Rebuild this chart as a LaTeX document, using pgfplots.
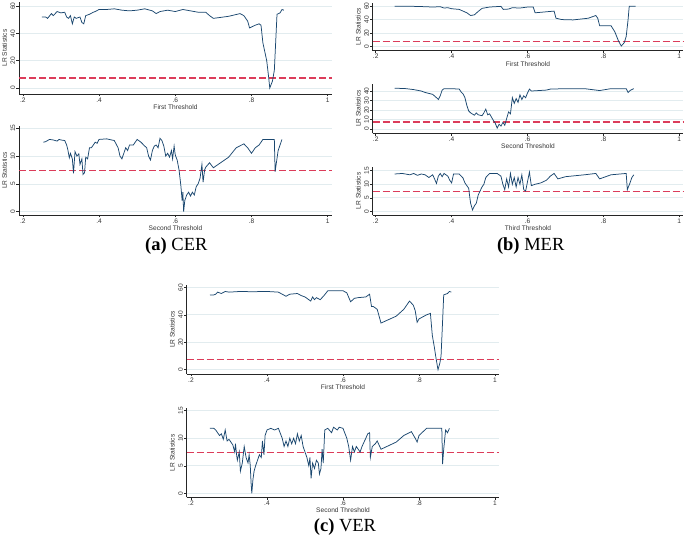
\documentclass[border=0pt]{standalone}
\usepackage{pgfplots}
\pgfplotsset{compat=1.18}
\usepackage{fontspec}
\setmainfont{Liberation Sans}
\newfontfamily\capfont{Liberation Serif}
\definecolor{navy}{HTML}{1A476F}
\definecolor{cvred}{HTML}{DC3C5A}
\definecolor{gridc}{RGB}{226,236,239}
\pgfplotsset{
  stata/.style={
    scale only axis,
    axis x line*=bottom, axis y line*=left,
    axis line style={black!85, line width=0.5pt},
    xtick={0.2,0.4,0.6,0.8,1}, xticklabels={.2,.4,.6,.8,1},
    tick align=outside, major tick length=2.5pt,
    tick style={black!85, line width=0.5pt},
    every tick label/.append style={font=\fontsize{6.6}{7}\selectfont, text=black!80},
    /pgf/number format/assume math mode=true,
    yticklabel style={rotate=90, anchor=south, inner sep=1pt},
    xticklabel style={inner sep=1pt},
    ymajorgrids, grid style={gridc, line width=0.6pt},
    ylabel={LR Statistics},
    xlabel style={inner sep=1pt, yshift=0pt, font=\fontsize{6.6}{7}\selectfont, text=black!80},
    every axis y label/.style={at={(axis description cs:0,0.5)}, xshift=-14.5pt, rotate=90, anchor=center, inner sep=0pt, font=\fontsize{6.6}{7}\selectfont, text=black!80},
    clip=false,
  },
  ser/.style={draw=navy, line width=0.75pt, mark=none},
  critline/.style={draw=cvred, color=cvred, line width=1.35pt, dash pattern=on 7pt off 3pt, mark=none},
}
\begin{document}
\begin{tikzpicture}
\path[use as bounding box] (0,0) rectangle (685pt,540pt);
% ---------- (a) top
\begin{axis}[stata, at={(19pt,446pt)}, anchor=south west, width=313pt, height=92pt,
  xmin=0.19, xmax=1.0113, ymin=-4.4, ymax=63, ytick={0,20,40,60}, xlabel={First Threshold}]
\addplot[critline] coordinates {(0.19,7.35) (1.0113,7.35)};
\addplot[ser] coordinates {
(0.25,52)(0.26,52)(0.265,51)(0.275,54.5)(0.28,53)(0.29,56)(0.30,55)(0.31,55.5)(0.315,52)(0.32,51)
(0.325,53)(0.33,47)(0.335,52)(0.34,51)(0.35,52)(0.355,48)(0.36,47)(0.365,53)(0.375,54)(0.385,55.5)
(0.39,56)(0.40,57.5)(0.42,57.5)(0.44,58)(0.46,57)(0.48,56.5)(0.50,57)(0.52,58)(0.54,56.5)(0.55,54.5)
(0.56,56)(0.58,57)(0.60,56)(0.62,57.5)(0.64,56.5)(0.66,55.5)(0.68,55.5)(0.69,53)(0.70,51)(0.74,52.5)
(0.77,54.5)(0.78,53)(0.79,49)(0.795,44)(0.81,46)(0.82,47)(0.825,46)(0.83,33)(0.84,20)(0.845,8)
(0.848,0)(0.855,5)(0.86,13)(0.867,54)(0.875,55)(0.88,57.5)(0.885,57)};
\end{axis}
% ---------- (a) bottom
\begin{axis}[stata, at={(19pt,325pt)}, anchor=south west, width=313pt, height=89.3pt,
  xmin=0.19, xmax=1.0113, ymin=-0.6, ymax=15.47, ytick={0,5,10,15}, xlabel={Second Threshold}]
\addplot[critline] coordinates {(0.19,7.35) (1.0113,7.35)};
\addplot[ser] coordinates {
(0.254,12.5)(0.26,12.6)(0.27,13.0)(0.28,12.9)(0.29,12.7)(0.295,13.0)(0.30,12.9)(0.31,12.8)(0.315,12.0)(0.318,11.2)
(0.322,9.7)(0.325,10.5)(0.33,9.5)(0.333,6.9)(0.337,10.8)(0.342,10.0)(0.347,10.4)(0.35,8.5)(0.355,9.5)(0.358,6.7)
(0.362,7.0)(0.365,9.8)(0.37,9.5)(0.375,11.5)(0.38,11.5)(0.385,12.0)(0.39,12.5)(0.395,12.3)(0.40,13.0)(0.42,13.1)
(0.44,12.8)(0.45,11.5)(0.455,10.0)(0.46,9.5)(0.465,10.5)(0.47,11.5)(0.475,11.0)(0.48,12.0)(0.49,12.0)(0.50,13.0)
(0.51,12.5)(0.52,11.8)(0.525,11.5)(0.53,10.0)(0.535,9.3)(0.54,11.0)(0.545,11.8)(0.55,12.0)(0.555,11.5)(0.56,13.2)
(0.565,12.8)(0.57,11.8)(0.575,10.0)(0.58,10.5)(0.585,9.8)(0.59,11.0)(0.593,9.5)(0.597,11.8)(0.60,10.2)(0.605,9.3)
(0.61,7.5)(0.615,4.5)(0.618,2.0)(0.62,3.5)(0.622,0)(0.625,2.0)(0.63,3.0)(0.635,3.5)(0.64,2.8)(0.645,3.5)
(0.65,3.0)(0.655,4.5)(0.66,5.0)(0.665,6.0)(0.67,8.5)(0.673,5.3)(0.677,7.5)(0.68,8.0)(0.69,8.8)(0.70,7.9)
(0.74,9.8)(0.76,11.5)(0.78,12.2)(0.79,11.5)(0.80,10.5)(0.81,11.5)(0.82,12.0)(0.83,13.0)(0.86,13.0)(0.862,7.2)
(0.87,11.0)(0.875,12.0)(0.88,13.0)};
\end{axis}
% ---------- (b) first
\begin{axis}[stata, at={(372.7pt,489.3pt)}, anchor=south west, width=310.6pt, height=48pt,
  xmin=0.192, xmax=1.0105, ymin=-5.9, ymax=64.9, ytick={0,20,40,60}, xlabel={First Threshold}]
\addplot[critline] coordinates {(0.192,7.35) (1.0105,7.35)};
\addplot[ser] coordinates {
(0.25,59.5)(0.30,59.5)(0.33,59)(0.35,58.5)(0.37,59)(0.38,57)(0.39,57.5)(0.40,56)(0.42,55)(0.44,50)
(0.45,46)(0.46,47)(0.47,52)(0.48,56.5)(0.50,58.5)(0.53,59.5)(0.536,55)(0.55,55.5)(0.56,57.5)(0.58,57)
(0.60,58.5)(0.615,58.5)(0.62,50)(0.65,51.5)(0.67,52.5)(0.675,42)(0.69,40)(0.72,39.5)(0.76,42)(0.78,46)
(0.785,42)(0.79,31)(0.82,31)(0.83,22)(0.84,8)(0.847,1)(0.855,6)(0.86,15)(0.865,40)(0.868,59.5)(0.885,59.5)};
\end{axis}
% ---------- (b) second
\begin{axis}[stata, at={(372.7pt,406.7pt)}, anchor=south west, width=310.6pt, height=49.3pt,
  xmin=0.192, xmax=1.0105, ymin=-4.5, ymax=47.4, ytick={0,10,20,30,40}, xlabel={Second Threshold}]
\addplot[critline] coordinates {(0.192,7.35) (1.0105,7.35)};
\addplot[ser] coordinates {
(0.25,43)(0.28,42.5)(0.30,41.5)(0.32,40)(0.33,38.5)(0.34,37.5)(0.35,36.5)(0.36,33)(0.365,31)(0.37,35)
(0.375,41)(0.38,42.5)(0.40,42.5)(0.42,42)(0.425,39)(0.43,37)(0.435,33)(0.44,25)(0.445,19)(0.45,17)
(0.46,14.5)(0.465,17)(0.47,15)(0.48,14)(0.485,17)(0.49,21)(0.495,15)(0.50,16)(0.51,9)(0.515,6)
(0.52,1)(0.525,5)(0.53,3)(0.535,7)(0.54,4)(0.545,11)(0.55,18)(0.555,16)(0.56,33)(0.565,27)
(0.57,32)(0.575,28)(0.58,36)(0.585,31)(0.59,35)(0.595,33)(0.60,38)(0.605,42)(0.61,40)(0.65,41)
(0.66,42)(0.70,42.5)(0.75,42.5)(0.79,40.5)(0.82,42.5)(0.86,42.5)(0.865,38.5)(0.87,40.5)(0.88,42.5)};
\end{axis}
% ---------- (b) third
\begin{axis}[stata, at={(372.7pt,325pt)}, anchor=south west, width=310.6pt, height=48.3pt,
  xmin=0.192, xmax=1.0105, ymin=-1.37, ymax=16.5, ytick={0,5,10,15}, xlabel={Third Threshold}]
\addplot[critline] coordinates {(0.192,7.35) (1.0105,7.35)};
\addplot[ser] coordinates {
(0.25,13.8)(0.27,14.0)(0.29,13.5)(0.30,14.0)(0.31,13.3)(0.32,13.8)(0.33,13.5)(0.34,12.5)(0.35,13.5)(0.355,12.0)
(0.36,10.3)(0.365,13.0)(0.37,14.0)(0.375,12.8)(0.38,14.0)(0.39,13.0)(0.395,11.5)(0.40,10.5)(0.405,13.8)(0.42,13.8)
(0.43,12.3)(0.435,10.5)(0.44,9.5)(0.445,8.5)(0.448,5)(0.45,3)(0.455,0.5)(0.46,2)(0.465,3)(0.47,6)
(0.475,7.5)(0.48,9)(0.485,10)(0.49,12.5)(0.50,14.0)(0.52,14.0)(0.53,13.0)(0.535,10.0)(0.54,8.0)(0.545,12.0)
(0.55,9.0)(0.555,14.0)(0.56,10.0)(0.565,12.5)(0.57,9.0)(0.575,12.5)(0.58,10.0)(0.585,13.5)(0.59,8.0)(0.595,7.5)
(0.60,11.0)(0.605,14.5)(0.61,9.5)(0.62,10.0)(0.635,10.5)(0.65,11.5)(0.66,13.0)(0.67,14.0)(0.68,12.0)(0.70,12.8)
(0.75,13.5)(0.78,14.0)(0.79,12.0)(0.80,12.5)(0.82,13.5)(0.86,14.0)(0.863,8.0)(0.87,10.5)(0.875,12.5)(0.88,13.5)};
\end{axis}
% ---------- (c) first
\begin{axis}[stata, at={(186.7pt,166pt)}, anchor=south west, width=312.6pt, height=89pt,
  xmin=0.1887, xmax=1.0113, ymin=-3.1, ymax=61.7, ytick={0,20,40,60}, xlabel={First Threshold}]
\addplot[critline] coordinates {(0.1887,7.35) (1.0113,7.35)};
\addplot[ser] coordinates {
(0.25,54.4)(0.26,54.5)(0.265,55)(0.27,56.5)(0.28,55.5)(0.29,57)(0.30,56.5)(0.33,57)(0.36,56.8)(0.40,57)
(0.43,56.5)(0.44,55)(0.45,53.5)(0.46,55)(0.48,55.5)(0.49,54)(0.50,53)(0.51,51)(0.515,50)(0.52,53)
(0.525,51)(0.53,52.5)(0.54,51)(0.55,54)(0.56,57.5)(0.60,57.5)(0.61,56)(0.62,49.5)(0.63,52)(0.64,52.5)
(0.66,53)(0.67,55)(0.675,46)(0.68,46)(0.69,44)(0.70,34)(0.72,36.5)(0.74,39)(0.76,44)(0.775,50)
(0.785,47)(0.79,43)(0.795,34.5)(0.80,37)(0.82,40)(0.83,41)(0.835,25)(0.84,17)(0.845,8)(0.85,0)
(0.855,5)(0.858,10)(0.862,35)(0.865,54.5)(0.875,55.5)(0.88,57)(0.885,56.5)};
\end{axis}
% ---------- (c) second
\begin{axis}[stata, at={(186.7pt,42.7pt)}, anchor=south west, width=312.6pt, height=89pt,
  xmin=0.1887, xmax=1.0113, ymin=-0.73, ymax=15.44, ytick={0,5,10,15}, xlabel={Second Threshold}]
\addplot[critline] coordinates {(0.1887,7.35) (1.0113,7.35)};
\addplot[ser] coordinates {
(0.25,11.8)(0.26,11.8)(0.265,11.5)(0.27,11.0)(0.275,10.5)(0.28,10.8)(0.285,9.8)(0.29,11.5)(0.295,9.5)(0.30,9.8)
(0.31,8.8)(0.315,7.5)(0.317,9.0)(0.32,7.0)(0.322,6.0)(0.327,7.5)(0.33,4.0)(0.335,5.5)(0.34,8.5)(0.345,6.5)
(0.35,5.5)(0.353,7.0)(0.356,5.0)(0.358,2.0)(0.36,0)(0.363,2.5)(0.366,4.0)(0.37,5.0)(0.375,6.0)(0.38,7.0)
(0.385,6.5)(0.388,9.5)(0.392,7.0)(0.395,10.5)(0.40,11.5)(0.41,11.8)(0.42,11.5)(0.43,11.8)(0.44,10.0)(0.445,8.5)
(0.45,9.5)(0.455,8.5)(0.46,10.0)(0.465,9.0)(0.47,10.0)(0.475,9.0)(0.48,10.8)(0.485,9.5)(0.49,10.5)(0.495,8.5)
(0.50,7.5)(0.505,6.5)(0.51,5.0)(0.513,6.5)(0.516,2.7)(0.52,5.5)(0.525,4.5)(0.53,6.0)(0.535,5.5)(0.538,3.5)
(0.542,4.5)(0.545,8.0)(0.548,5.5)(0.552,11.5)(0.56,11.8)(0.57,11.0)(0.575,12.0)(0.585,11.5)(0.59,12.0)(0.60,11.8)
(0.61,10.0)(0.615,8.5)(0.62,6.0)(0.625,8.5)(0.63,7.5)(0.635,8.5)(0.64,8.0)(0.645,7.5)(0.65,8.5)(0.66,10.0)
(0.665,10.8)(0.67,11.0)(0.672,6.5)(0.677,8.5)(0.685,9.0)(0.69,9.5)(0.70,8.0)(0.74,9.3)(0.76,10.5)(0.78,11.2)
(0.79,10.0)(0.795,9.3)(0.80,10.5)(0.82,11.8)(0.86,11.8)(0.862,5.3)(0.865,8.0)(0.87,11.5)(0.875,11.0)(0.88,11.8)};
\end{axis}
% ---------- captions
\node[font=\capfont\fontsize{18.5}{20}\selectfont] at (176.3pt,294.3pt) {\textbf{(a)} CER};
\node[font=\capfont\fontsize{18.5}{20}\selectfont] at (530.7pt,294pt) {\textbf{(b)} MER};
\node[font=\capfont\fontsize{18.5}{20}\selectfont] at (345pt,13.3pt) {\textbf{(c)} VER};
\end{tikzpicture}
\end{document}
